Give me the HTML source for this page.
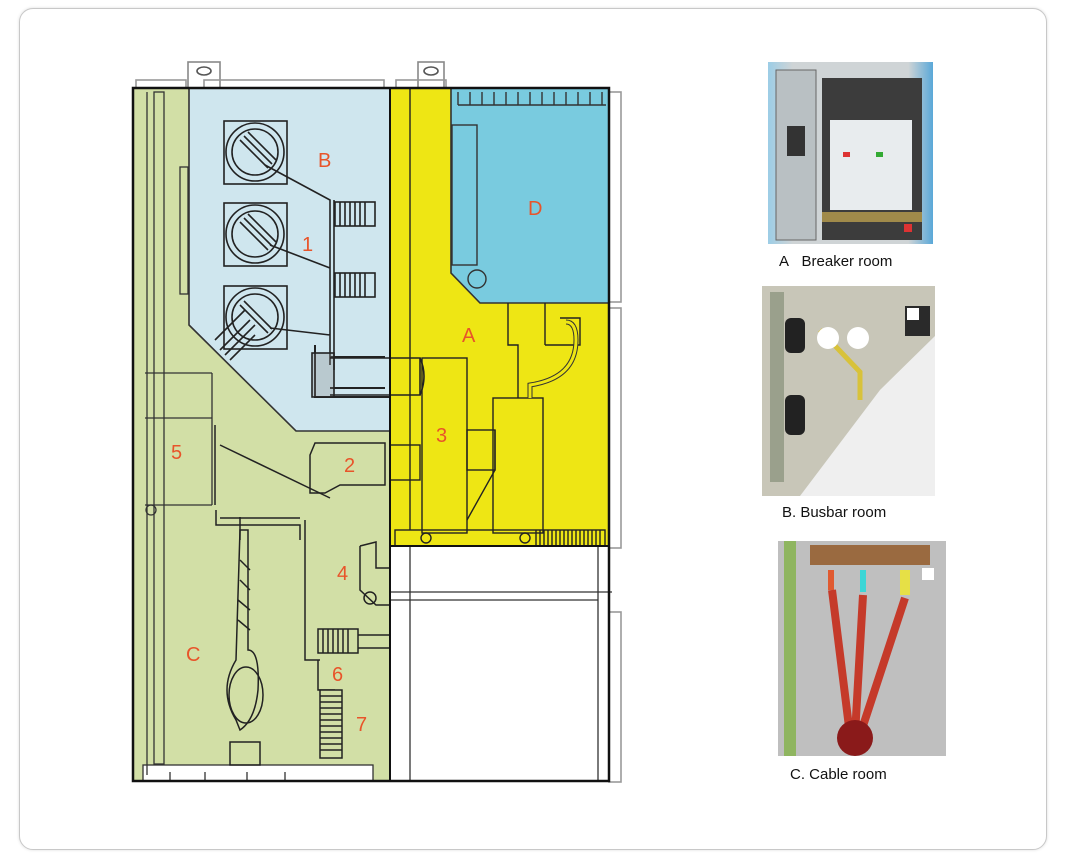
<!DOCTYPE html>
<html><head><meta charset="utf-8"><style>
html,body{margin:0;padding:0;background:#fff;}
body{width:1069px;height:867px;position:relative;overflow:hidden;font-family:"Liberation Sans",sans-serif;}
.frame{position:absolute;left:19px;top:8px;width:1026px;height:840px;border:1px solid #c8c8c8;border-radius:14px;background:#fff;box-shadow:0 0 3px #ddd;}
.cap{position:absolute;font-size:15px;color:#111;}
.l{font-family:"Liberation Sans",sans-serif;font-size:20px;fill:#e8542a;}
</style></head><body>
<div class="frame"></div>
<svg width="1069" height="867" style="position:absolute;left:0;top:0" fill="none" stroke="#222" stroke-width="1.6">
<rect x="188" y="62" width="32" height="26" fill="#fff" stroke="#888"/>
<ellipse cx="204" cy="71" rx="7" ry="4" stroke="#555"/>
<rect x="418" y="62" width="26" height="26" fill="#fff" stroke="#888"/>
<ellipse cx="431" cy="71" rx="7" ry="4" stroke="#555"/>
<rect x="136" y="80" width="50" height="8" stroke="#999"/>
<rect x="204" y="80" width="180" height="8" stroke="#999"/>
<rect x="396" y="80" width="50" height="8" stroke="#999"/>
<rect x="609" y="92" width="12" height="210" stroke="#999"/>
<rect x="609" y="308" width="12" height="240" stroke="#999"/>
<rect x="609" y="612" width="12" height="170" stroke="#999"/>
<rect x="134" y="88" width="256" height="693" fill="#d2dfa6" stroke="none"/>
<polygon points="189,88 390,88 390,431 296,431 189,325" fill="#cfe6ee" stroke="#333"/>
<rect x="390" y="88" width="219" height="458" fill="#eee614" stroke="none"/>
<polygon points="451,88 609,88 609,303 480,303 451,273" fill="#79cbdf" stroke="#333"/>
<g stroke="#333" stroke-width="1.4">
<line x1="458" y1="105" x2="606" y2="105"/>
<path d="M458 92V105M470 92V105M482 92V105M494 92V105M506 92V105M518 92V105M530 92V105M542 92V105M554 92V105M566 92V105M578 92V105M590 92V105M602 92V105"/>
<rect x="452" y="125" width="25" height="140"/>
<circle cx="477" cy="279" r="9"/>
</g>
<rect x="390" y="546" width="219" height="235" fill="#fff" stroke="none"/>
<g stroke="#333" stroke-width="1.3">
<line x1="410" y1="546" x2="410" y2="781"/>
<line x1="598" y1="546" x2="598" y2="781"/>
<line x1="390" y1="592" x2="612" y2="592"/>
<line x1="390" y1="600" x2="598" y2="600"/>
<rect x="143" y="765" width="230" height="16" fill="#fff"/>
<path d="M170 772V781M205 772V781M247 772V781M285 772V781"/>
<line x1="147" y1="92" x2="147" y2="775"/>
<rect x="154" y="92" width="10" height="672"/>
<rect x="180" y="167" width="8" height="127"/>
<line x1="145" y1="373" x2="212" y2="373"/>
<line x1="212" y1="373" x2="212" y2="505"/>
<line x1="145" y1="418" x2="212" y2="418"/>
<line x1="145" y1="505" x2="212" y2="505"/>
<circle cx="151" cy="510" r="5"/>
</g>
<g stroke="#222" stroke-width="1.6">
<rect x="224" y="121" width="63" height="63" fill="#cfe6ee"/><circle cx="255" cy="152" r="29"/><circle cx="255" cy="152" r="23"/>
<rect x="224" y="203" width="63" height="63" fill="#cfe6ee"/><circle cx="255" cy="234" r="29"/><circle cx="255" cy="234" r="23"/>
<rect x="224" y="286" width="63" height="63" fill="#cfe6ee"/><circle cx="255" cy="317" r="29"/><circle cx="255" cy="317" r="23"/>
<path d="M240 140L268 168M244 136L272 164M248 132L276 160"/>
<path d="M240 222L268 250M244 218L272 246M248 214L276 242"/>
<path d="M240 305L268 333M244 301L272 329"/>
<path d="M265 165L330 200V365M270 245L330 268M270 328L330 335"/>
<path d="M334 200L334 370"/>
<rect x="335" y="202" width="40" height="24" fill="#cfe6ee"/>
<path d="M340 202V226M345 202V226M350 202V226M355 202V226M360 202V226M365 202V226"/>
<rect x="335" y="273" width="40" height="24" fill="#cfe6ee"/>
<path d="M340 273V297M345 273V297M350 273V297M355 273V297M360 273V297M365 273V297"/>
<path d="M215 340L245 310M220 350L250 320M225 355L255 325M230 360L255 335"/>
<path d="M315 345V397H390M330 357H385M330 388H385" stroke-width="2"/>
<rect x="312" y="353" width="22" height="44" fill="#888" fill-opacity="0.3"/>
<path d="M330 358H420V395H330"/>
<path d="M420 358Q428 376 420 395"/>
</g>
<g stroke="#222" stroke-width="1.4">
<line x1="410" y1="88" x2="410" y2="530"/>
<rect x="422" y="358" width="45" height="175"/>
<rect x="467" y="430" width="28" height="40"/>
<polyline points="495,430 495,470 467,520"/>
<rect x="493" y="398" width="50" height="135"/>
<path d="M508 303V345H518V398M545 303V345M560 318H580V345H545"/>
<path d="M566 322Q576 322 576 340 Q576 378 530 385V398" stroke-width="5" stroke="#333"/>
<path d="M566 322Q576 322 576 340 Q576 378 530 385V398" stroke-width="3" stroke="#eee614"/>
<rect x="390" y="445" width="30" height="35"/>
<rect x="395" y="530" width="210" height="16"/>
<circle cx="426" cy="538" r="5"/><circle cx="525" cy="538" r="5"/>
<path d="M536 530V546M540 530V546M544 530V546M548 530V546M552 530V546M556 530V546M560 530V546M564 530V546M568 530V546M572 530V546M576 530V546M580 530V546M584 530V546M588 530V546M592 530V546M596 530V546M600 530V546"/>
</g>
<g stroke="#222" stroke-width="1.5">
<path d="M315 443H385V485H340L325 493H310V455Z"/>
<path d="M215 425V505M220 445L330 498M216 510V525H300V540M240 517V540"/>
<path d="M220 518H300M305 520V660H320"/>
<path d="M240 530L236 660Q218 690 236 720L240 730Q255 720 258 690Q260 650 248 650L248 530Z"/>
<path d="M240 560L250 570M240 580L250 590M238 600L250 610M238 620L250 630"/>
<ellipse cx="246" cy="695" rx="17" ry="28"/>
<rect x="230" y="742" width="30" height="23"/>
<rect x="318" y="629" width="40" height="24" fill="#d2dfa6"/>
<path d="M323 629V653M328 629V653M333 629V653M338 629V653M343 629V653M348 629V653"/>
<path d="M358 635H390M358 648H390"/>
<path d="M318 660V690H335"/>
<rect x="320" y="690" width="22" height="68" fill="#d2dfa6"/>
<path d="M320 696H342M320 702H342M320 708H342M320 714H342M320 720H342M320 726H342M320 732H342M320 738H342M320 744H342M320 750H342"/>
<path d="M360 546L376 542V568H390M360 546V590L376 605H390"/>
<circle cx="370" cy="598" r="6"/>
</g>
<rect x="133" y="88" width="476" height="693" stroke="#111" stroke-width="2.5"/>
<line x1="390" y1="88" x2="390" y2="781" stroke="#111" stroke-width="2"/>
<line x1="390" y1="546" x2="609" y2="546" stroke="#111" stroke-width="2"/>
<g stroke="none">
<text class="l" x="318" y="167">B</text>
<text class="l" x="302" y="251">1</text>
<text class="l" x="528" y="215">D</text>
<text class="l" x="462" y="342">A</text>
<text class="l" x="436" y="442">3</text>
<text class="l" x="344" y="472">2</text>
<text class="l" x="171" y="459">5</text>
<text class="l" x="337" y="580">4</text>
<text class="l" x="186" y="661">C</text>
<text class="l" x="332" y="681">6</text>
<text class="l" x="356" y="731">7</text>
</g>
</svg>
<svg width="1069" height="867" style="position:absolute;left:0;top:0">
<defs>
<linearGradient id="ga" x1="0" x2="1"><stop offset="0" stop-color="#9ccde6"/><stop offset=".15" stop-color="#cfd4d6"/><stop offset=".85" stop-color="#cfd4d6"/><stop offset="1" stop-color="#5aa8d8"/></linearGradient>
</defs>
<rect x="768" y="62" width="165" height="182" fill="url(#ga)"/>
<rect x="776" y="70" width="40" height="170" fill="#b9c0c3" stroke="#666"/>
<rect x="787" y="126" width="18" height="30" fill="#333"/>
<rect x="822" y="78" width="100" height="162" fill="#3c3c3c"/>
<rect x="830" y="120" width="82" height="90" fill="#e8ecee"/>
<rect x="843" y="152" width="7" height="5" fill="#d33"/><rect x="876" y="152" width="7" height="5" fill="#3a3"/>
<rect x="822" y="212" width="100" height="10" fill="#a08a4a"/>
<rect x="904" y="224" width="8" height="8" fill="#d33"/>
<rect x="762" y="286" width="173" height="210" fill="#c8c6b8"/>
<rect x="770" y="292" width="14" height="190" fill="#9aa08c"/>
<polygon points="880,390 935,336 935,496 800,496" fill="#efefef"/>
<rect x="785" y="318" width="20" height="35" rx="6" fill="#222"/>
<rect x="785" y="395" width="20" height="40" rx="6" fill="#222"/>
<path d="M820 330L860 372V400" stroke="#d8c23a" stroke-width="5" fill="none"/>
<circle cx="828" cy="338" r="11" fill="#fff"/><circle cx="858" cy="338" r="11" fill="#fff"/>
<rect x="905" y="306" width="25" height="30" fill="#2a2a2a"/>
<rect x="907" y="308" width="12" height="12" fill="#fff"/>
<rect x="778" y="541" width="168" height="215" fill="#bfbfbf"/>
<rect x="784" y="541" width="12" height="215" fill="#8fb560"/>
<rect x="810" y="545" width="120" height="20" fill="#9a6a40"/>
<rect x="828" y="570" width="6" height="20" fill="#e05a30"/><rect x="860" y="570" width="6" height="22" fill="#3cd6d6"/><rect x="900" y="570" width="10" height="25" fill="#e6e046"/>
<path d="M832 590L850 735M863 595L855 735M905 598L860 735" stroke="#c53a2a" stroke-width="8" fill="none"/>
<circle cx="855" cy="738" r="18" fill="#8a1a1a"/>
<rect x="922" y="568" width="12" height="12" fill="#fff"/>
</svg>
<div class="cap" style="left:779px;top:253px;">A&nbsp;&nbsp;&nbsp;Breaker room</div>
<div class="cap" style="left:782px;top:504px;">B. Busbar room</div>
<div class="cap" style="left:790px;top:766px;">C. Cable room</div>
</body></html>
